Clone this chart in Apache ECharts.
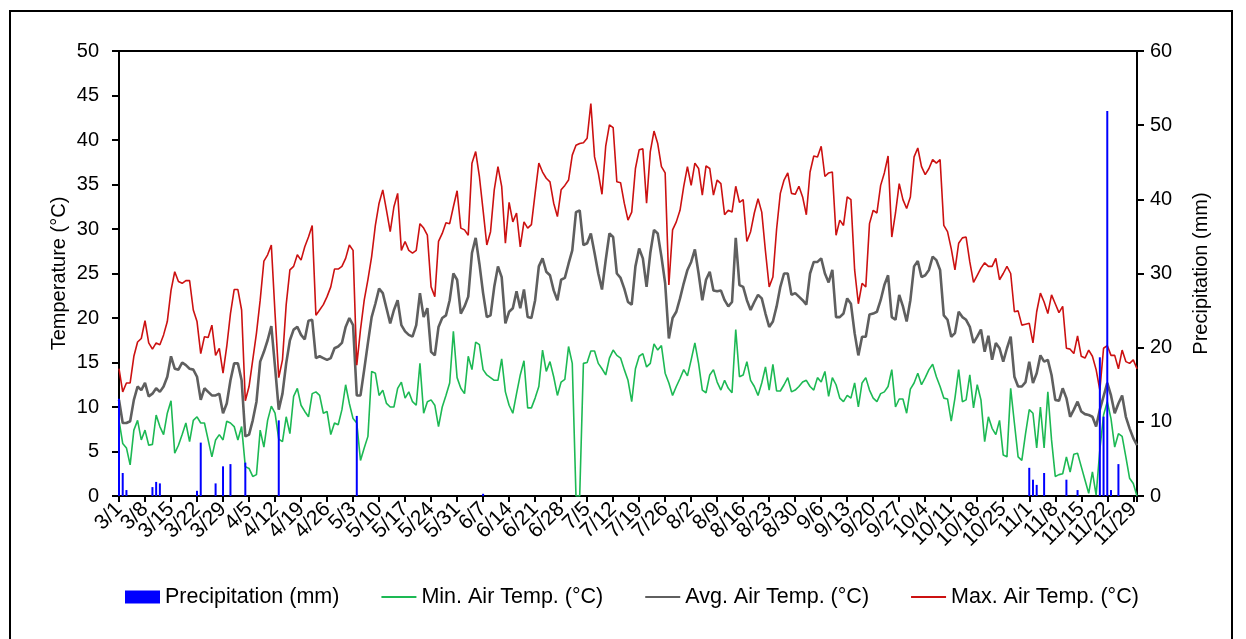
<!DOCTYPE html>
<html>
<head>
<meta charset="utf-8">
<script src="https://cdn.jsdelivr.net/npm/echarts@6/dist/echarts.min.js"></script>
<style>
  html, body { margin: 0; padding: 0; background: #fff; }
  #main { width: 1246px; height: 639px; }
</style>
</head>
<body>
<div id="main"></div>
<script>
// daily labels 3/1 .. 11/30
var monthLens = [[3, 31], [4, 30], [5, 31], [6, 30], [7, 31], [8, 31], [9, 30], [10, 31], [11, 30]];
var days = [];
monthLens.forEach(function (m) {
    for (var d = 1; d <= m[1]; d++) days.push(m[0] + '/' + d);
});

// max air temp (°C), one value per day from 3/1
var maxTemp = [
    14.3, 11.7, 12.7, 12.7, 15.7, 17.3, 17.7, 19.7, 17.2, 16.5, 17.2, 17.0, 18.1, 19.6, 23.1, 25.2, 24.1, 23.9, 24.2, 24.2,
    20.9, 19.6, 16.0, 17.9, 17.8, 19.2, 15.8, 16.6, 13.8, 16.8, 20.5, 23.2, 23.2, 20.9, 10.7, 12.3, 15.3, 18.3, 22.0, 26.4,
    27.1, 28.2, 20.5, 13.3, 15.3, 21.5, 25.4, 25.8, 27.1, 26.5, 28.0, 29.1, 30.4, 20.3, 20.9, 21.5, 22.4, 23.5, 25.5, 25.5,
    25.8, 26.7, 28.2, 27.6, 14.7, 18.7, 22.0, 24.3, 26.9, 30.4, 32.9, 34.4, 32.1, 29.7, 32.5, 34.0, 27.6, 28.6, 27.6, 27.3,
    27.6, 30.6, 30.1, 29.3, 23.5, 22.4, 28.6, 29.5, 30.7, 30.6, 32.5, 34.3, 30.1, 29.9, 29.3, 37.4, 38.7, 35.9, 32.1, 28.2,
    29.7, 34.4, 37.0, 34.8, 28.4, 33.0, 30.8, 31.8, 28.0, 30.8, 30.1, 30.5, 34.0, 37.4, 36.4, 35.7, 35.3, 32.9, 31.4, 34.4,
    34.9, 35.5, 38.3, 39.4, 39.6, 39.7, 40.2, 44.1, 38.1, 36.3, 33.9, 39.3, 41.7, 41.4, 35.3, 35.2, 32.9, 31.0, 31.9, 36.8,
    38.9, 39.0, 32.9, 38.7, 41.0, 39.6, 37.0, 36.3, 23.7, 29.9, 30.8, 32.1, 34.8, 37.0, 34.9, 37.4, 36.8, 33.8, 37.1, 36.8,
    33.8, 35.5, 35.1, 31.6, 32.1, 31.9, 34.8, 33.0, 33.3, 28.6, 29.7, 31.8, 33.4, 31.9, 27.5, 23.5, 24.6, 30.0, 34.0, 35.5,
    36.3, 34.0, 33.9, 34.8, 33.6, 31.6, 36.4, 38.2, 38.1, 39.3, 35.9, 36.3, 36.4, 29.3, 31.0, 30.4, 33.6, 33.3, 25.4, 21.6,
    23.9, 23.5, 30.6, 32.1, 31.8, 34.9, 36.3, 38.2, 29.1, 31.8, 35.1, 33.3, 32.3, 33.6, 38.1, 39.1, 37.0, 36.1, 36.8, 37.8,
    37.4, 37.8, 30.4, 29.7, 27.8, 25.4, 28.4, 29.0, 29.1, 26.3, 24.0, 24.8, 25.6, 26.2, 25.8, 25.8, 26.7, 24.3, 25.0, 25.8,
    25.0, 20.7, 20.8, 19.2, 19.3, 19.4, 17.2, 20.7, 22.8, 21.8, 20.5, 22.6, 21.6, 20.6, 21.3, 16.6, 16.5, 16.0, 18.0, 15.7,
    15.5, 16.4, 15.7, 14.2, 11.9, 16.6, 16.9, 15.8, 15.8, 14.3, 16.4, 15.1, 14.9, 15.3, 14.3
];

// avg air temp (°C)
var avgTemp = [
    10.8, 8.2, 8.2, 8.4, 10.8, 12.3, 11.9, 12.7, 11.2, 11.5, 12.1, 11.7, 12.3, 13.4, 15.7, 14.3, 14.2, 15.0, 14.7, 14.3,
    14.2, 13.4, 10.8, 12.1, 11.7, 11.3, 11.3, 11.5, 9.3, 10.4, 13.0, 14.9, 14.9, 13.0, 6.7, 6.9, 8.5, 10.6, 15.1, 16.2,
    17.5, 19.1, 14.5, 9.7, 11.5, 14.9, 17.5, 18.7, 19.0, 18.1, 17.6, 19.7, 19.8, 15.5, 15.7, 15.5, 15.3, 15.5, 16.6, 16.8,
    17.2, 19.0, 20.0, 19.2, 11.3, 11.3, 14.2, 17.2, 20.1, 21.6, 23.3, 22.8, 21.1, 19.4, 20.9, 22.0, 19.2, 18.5, 18.1, 17.9,
    19.2, 22.8, 20.1, 21.1, 16.2, 15.8, 19.0, 20.0, 20.3, 22.0, 25.0, 24.3, 20.5, 21.3, 22.4, 27.3, 29.0, 26.1, 22.8, 20.1,
    20.3, 23.5, 25.8, 24.6, 19.4, 20.7, 21.1, 23.0, 21.1, 23.2, 20.1, 20.0, 22.0, 25.8, 26.7, 25.2, 24.8, 23.1, 22.0, 24.3,
    24.5, 26.1, 27.6, 31.9, 32.1, 28.2, 28.4, 29.5, 27.3, 25.0, 23.2, 26.5, 29.5, 29.1, 25.0, 24.5, 23.3, 21.8, 21.5, 25.8,
    27.8, 26.7, 23.5, 27.3, 29.9, 29.5, 26.9, 23.9, 17.7, 20.0, 20.7, 22.2, 23.9, 25.4, 26.3, 27.7, 25.0, 22.0, 24.3, 25.2,
    23.1, 23.0, 23.1, 22.0, 21.3, 21.8, 29.0, 23.7, 23.5, 22.0, 20.9, 21.8, 22.6, 22.2, 20.5, 19.0, 19.6, 21.3, 23.5, 25.0,
    25.0, 22.6, 22.8, 22.4, 22.0, 21.5, 25.0, 26.3, 26.3, 26.7, 25.0, 24.0, 25.4, 20.1, 20.1, 20.5, 22.2, 21.6, 18.3, 15.8,
    17.9, 17.9, 20.4, 20.5, 20.7, 22.0, 23.7, 24.8, 20.1, 19.8, 22.6, 21.3, 19.6, 22.0, 25.8, 26.4, 24.6, 24.8, 25.4, 26.9,
    26.5, 25.4, 20.3, 19.8, 17.9, 18.3, 20.7, 20.1, 19.8, 19.0, 17.2, 17.9, 18.7, 16.2, 18.0, 15.3, 17.2, 16.6, 15.1, 16.6,
    17.9, 13.4, 12.3, 12.3, 12.8, 15.1, 12.7, 13.8, 15.8, 15.1, 15.3, 13.6, 10.8, 10.7, 12.1, 11.0, 8.9, 9.7, 10.6, 9.5,
    9.2, 9.1, 8.9, 7.8, 9.7, 11.2, 12.7, 11.3, 9.3, 10.4, 11.3, 8.9, 7.6, 6.5, 5.7
];

// min air temp (°C)
var minTemp = [
    8.5, 5.9, 5.4, 3.5, 7.4, 8.5, 6.3, 7.4, 5.7, 5.8, 9.1, 7.8, 6.9, 9.3, 10.7, 4.8, 5.7, 6.9, 8.2, 6.1,
    8.5, 8.9, 8.2, 8.2, 6.3, 4.4, 6.3, 6.9, 6.3, 8.4, 8.2, 7.8, 6.3, 7.8, 3.3, 3.1, 2.2, 2.4, 7.4, 5.5,
    8.5, 10.1, 9.3, 6.4, 6.1, 8.9, 7.0, 11.2, 12.1, 10.2, 9.5, 8.9, 11.5, 11.7, 11.3, 9.3, 9.5, 6.9, 8.2, 8.0,
    9.7, 12.5, 10.4, 8.7, 8.2, 4.0, 5.4, 6.7, 14.0, 13.8, 11.3, 11.9, 10.4, 10.0, 10.0, 12.1, 12.8, 11.0, 11.7, 10.6,
    10.2, 14.9, 9.3, 10.6, 10.8, 10.2, 7.8, 10.0, 11.3, 12.7, 18.5, 13.3, 12.1, 11.5, 15.7, 14.2, 17.3, 17.0, 14.2, 13.6,
    13.3, 13.0, 13.0, 15.4, 11.7, 10.2, 9.3, 11.5, 13.6, 15.2, 9.9, 9.9, 11.0, 12.3, 16.4, 14.0, 15.1, 13.4, 11.3, 12.8,
    13.1, 16.8, 14.9, 0, 0, 14.9, 15.0, 16.3, 16.3, 14.9, 14.3, 13.6, 15.5, 16.4, 15.8, 15.5, 14.2, 13.0, 10.6, 14.3,
    15.7, 16.0, 14.5, 14.9, 17.1, 16.4, 16.9, 13.8, 12.7, 11.3, 12.3, 13.2, 14.2, 13.5, 15.3, 17.2, 14.9, 11.9, 11.6, 13.6,
    14.2, 12.8, 11.9, 13.0, 12.1, 11.6, 18.7, 13.4, 13.6, 15.1, 13.0, 12.3, 11.3, 12.7, 14.5, 11.9, 14.8, 11.8, 11.8, 12.5,
    13.3, 11.7, 11.9, 12.3, 12.8, 13.0, 12.3, 11.9, 13.3, 12.8, 14.0, 11.2, 13.3, 12.5, 11.0, 10.6, 11.3, 11.0, 12.7, 10.0,
    12.7, 13.3, 11.9, 11.0, 10.6, 11.5, 11.7, 12.3, 14.2, 10.0, 10.9, 10.9, 9.3, 12.0, 12.7, 13.8, 12.5, 13.3, 14.2, 14.8,
    13.4, 12.3, 11.0, 10.9, 8.4, 11.0, 14.2, 10.6, 10.8, 13.6, 9.9, 12.5, 10.8, 6.1, 8.9, 7.6, 6.9, 8.5, 4.6, 4.4,
    12.1, 8.2, 4.4, 4.0, 7.0, 9.7, 9.3, 5.4, 10.0, 5.4, 11.7, 6.3, 2.2, 2.4, 2.5, 4.4, 2.7, 4.7, 4.8, 3.3,
    1.8, 0.3, 2.7, 0.1, 5.2, 9.1, 10.6, 8.7, 5.5, 7.0, 6.7, 4.4, 2.0, 1.4, 0
];

// precipitation (mm), only the rainy days
var rainDays = ['3/1', '3/2', '3/3', '3/10', '3/11', '3/12', '3/22', '3/23', '3/27', '3/29', '3/31', '4/4', '4/13',
    '5/4', '6/7', '11/1', '11/2', '11/3', '11/5', '11/11', '11/14', '11/20', '11/21', '11/22', '11/23', '11/25'];
var rainVals = [13.1, 3.1, 0.8, 1.2, 1.9, 1.7, 0.7, 7.2, 1.7, 4.0, 4.3, 4.5, 10.2,
    10.8, 0.3, 3.8, 2.2, 1.5, 3.1, 2.2, 0.8, 18.7, 10.7, 51.9, 0.8, 4.3];

var precip = days.map(function (d) {
    var i = rainDays.indexOf(d);
    return i >= 0 ? rainVals[i] : 0;
});

var FONT = 'Liberation Sans, Arial, sans-serif';
var chart = echarts.init(document.getElementById('main'));

// legend entry for a line: plain stroke, no marker
function lineEntry(name) {
    return { name: name, itemStyle: { color: 'rgba(0,0,0,0)', borderWidth: 0 } };
}

var option = {
    animation: false,
    backgroundColor: '#fff',
    textStyle: { fontFamily: FONT, color: '#000' },
    graphic: [{
        type: 'rect',
        shape: { x: 10, y: 11, width: 1222, height: 640 },
        style: { fill: 'none', stroke: '#000', lineWidth: 2 },
        silent: true
    }],
    grid: {
        left: 119, right: 109, top: 51, bottom: 143,
        show: true, borderColor: '#000', borderWidth: 2
    },
    legend: {
        left: 125,
        top: 586,
        padding: 0,
        itemWidth: 35,
        itemHeight: 13,
        itemGap: 41,
        textStyle: { fontFamily: FONT, fontSize: 21.5, color: '#000' },
        data: [
            { name: 'Precipitation (mm)', icon: 'rect' },
            lineEntry('Min. Air Temp. (°C)'),
            lineEntry('Avg. Air Temp. (°C)'),
            lineEntry('Max. Air Temp. (°C)')
        ]
    },
    xAxis: {
        type: 'category',
        data: days,
        boundaryGap: false,
        axisLine: { lineStyle: { color: '#000', width: 2 } },
        axisTick: { interval: 6, length: 6, lineStyle: { color: '#000', width: 2 } },
        axisLabel: {
            // every label is laid out, only each 7th day gets text
            interval: 0, rotate: 45, margin: 10,
            formatter: function (value, index) { return index % 7 === 0 ? value : ''; },
            fontFamily: FONT, fontSize: 21, color: '#000'
        },
        splitLine: { show: false }
    },
    yAxis: [{
        type: 'value',
        min: 0, max: 50, interval: 5,
        name: 'Temperature (°C)',
        nameLocation: 'middle',
        nameRotate: 90,
        nameGap: 50,
        nameMoveOverlap: false,
        nameTextStyle: { fontFamily: FONT, fontSize: 20, color: '#000' },
        axisLine: { show: true, lineStyle: { color: '#000', width: 2 } },
        axisTick: { show: true, length: 7, lineStyle: { color: '#000', width: 2 } },
        axisLabel: { margin: 20, fontFamily: FONT, fontSize: 20, color: '#000' },
        splitLine: { show: false }
    }, {
        type: 'value',
        min: 0, max: 60, interval: 10,
        name: 'Precipitation (mm)',
        nameLocation: 'middle',
        nameRotate: 90,
        nameGap: 54,
        nameMoveOverlap: false,
        nameTextStyle: { fontFamily: FONT, fontSize: 20, color: '#000' },
        axisLine: { show: true, lineStyle: { color: '#000', width: 2 } },
        axisTick: { show: true, length: 7, lineStyle: { color: '#000', width: 2 } },
        axisLabel: { margin: 13, fontFamily: FONT, fontSize: 20, color: '#000' },
        splitLine: { show: false }
    }],
    series: [{
        name: 'Precipitation (mm)',
        type: 'bar',
        yAxisIndex: 1,
        data: precip,
        barWidth: 2,
        z: 5,
        itemStyle: { color: '#0000ff' }
    }, {
        name: 'Min. Air Temp. (°C)',
        type: 'line',
        data: minTemp,
        symbol: 'none',
        lineStyle: { color: '#1db954', width: 1.6 },
        itemStyle: { color: '#1db954' }
    }, {
        name: 'Avg. Air Temp. (°C)',
        type: 'line',
        data: avgTemp,
        symbol: 'none',
        lineStyle: { color: '#5f5f5f', width: 2.6 },
        itemStyle: { color: '#5f5f5f' }
    }, {
        name: 'Max. Air Temp. (°C)',
        type: 'line',
        data: maxTemp,
        symbol: 'none',
        lineStyle: { color: '#cc1111', width: 1.6 },
        itemStyle: { color: '#cc1111' }
    }]
};

chart.setOption(option);
</script>
</body>
</html>
